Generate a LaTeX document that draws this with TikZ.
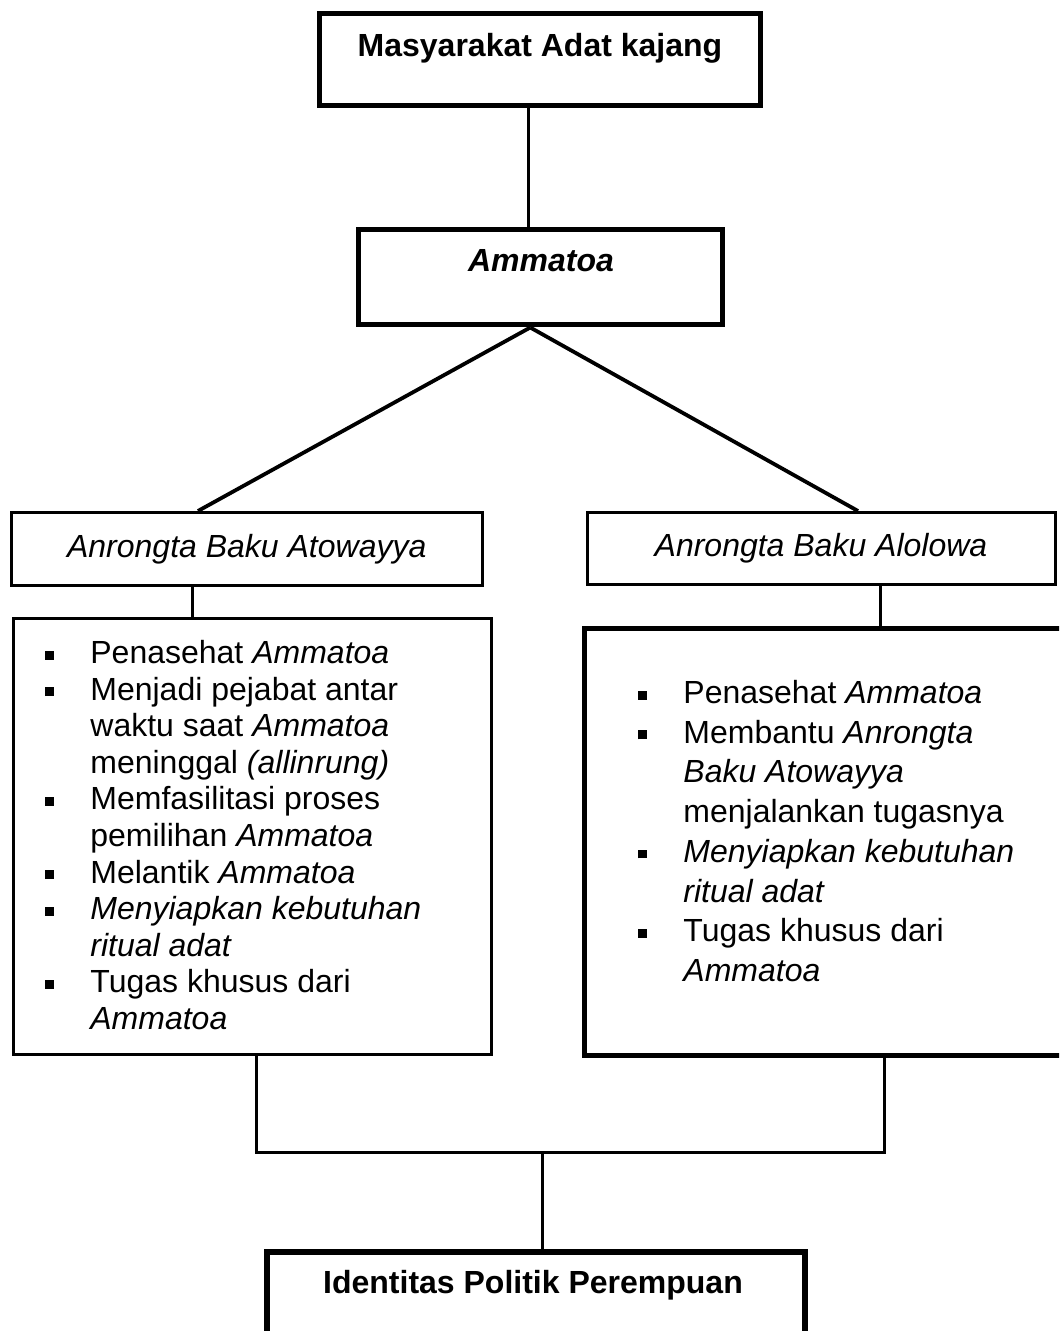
\documentclass[tikz,border=0pt]{standalone}
\usepackage{fontspec}
\setmainfont{Liberation Sans}
\usepackage{tikz}
\usetikzlibrary{positioning}

\newcommand{\butir}{\makebox[22.5pt][l]{\rule[2pt]{4.4pt}{4.4pt}}}
\newcommand{\sela}{\hspace*{22.5pt}}

\tikzset{
  tipis/.style={draw, line width=1.5pt, inner sep=0pt},
  tebal/.style={draw, line width=2.7pt, inner sep=0pt},
  garis/.style={line width=1.5pt},
  judul/.style={font=\fontsize{16}{19}\selectfont\bfseries, inner sep=0pt},
  daftar/.style={align=left, inner sep=0pt}
}

\begin{document}
\begin{tikzpicture}[x=0.5pt,y=-0.5pt]
\clip (0,0) rectangle (1059,1331);

%Shape: Rectangle [top]
\node[tebal, minimum width=220.25pt, minimum height=46pt] (adat) at (540,59.5) {};
%Shape: Rectangle [ammatoa]
\node[tebal, line width=2.5pt, minimum width=181.75pt, minimum height=47.75pt] (ammatoa) at (540.25,277.25) {};
%Shape: Rectangle [labels]
\node[tipis, minimum width=235.25pt, minimum height=36.5pt, font=\fontsize{16}{19}\selectfont\itshape] (atowayya) at (246.75,549) {Anrongta Baku Atowayya};
\node[tipis, minimum width=234pt, minimum height=35.75pt, font=\fontsize{16}{19}\selectfont\itshape] (alolowa) at (821,548.25) {Anrongta Baku Alolowa};
%Shape: Rectangle [lists]
\node[tipis, minimum width=239pt, minimum height=217.75pt] (tugasA) at (252,836.25) {};
\node[tebal, minimum width=242.75pt, minimum height=213.5pt] (tugasB) at (827.25,842) {};
%Shape: Rectangle [bottom]
\node[tebal, minimum width=269pt, minimum height=74pt] (identitas) at (536,1326) {};

% Text Node
\node[judul, anchor=base] (adatT) at (540,57) {Masyarakat Adat kajang};
% Text Node
\node[judul, anchor=base] (ammatoaT) at (541,272) {\textit{Ammatoa}};
% Text Node
\node[judul, anchor=base] (identitasT) at (533,1293) {Identitas Politik Perempuan};

% Text Node
\node[daftar, anchor=north west, font=\fontsize{16}{18.3}\selectfont] (isiA) at (45,640) {%
\butir Penasehat \textit{Ammatoa}\\
\butir Menjadi pejabat antar\\
\sela waktu saat \textit{Ammatoa}\\
\sela meninggal \textit{(allinrung)}\\
\butir Memfasilitasi proses\\
\sela pemilihan \textit{Ammatoa}\\
\butir Melantik \textit{Ammatoa}\\
\butir \textit{Menyiapkan kebutuhan}\\
\sela \textit{ritual adat}\\
\butir Tugas khusus dari\\
\sela \textit{Ammatoa}};
% Text Node
\node[daftar, anchor=north west, font=\fontsize{16}{19.85}\selectfont] (isiB) at (638,680) {%
\butir Penasehat \textit{Ammatoa}\\
\butir Membantu \textit{Anrongta}\\
\sela \textit{Baku Atowayya}\\
\sela menjalankan tugasnya\\
\butir \textit{Menyiapkan kebutuhan}\\
\sela \textit{ritual adat}\\
\butir Tugas khusus dari\\
\sela \textit{Ammatoa}};

%Straight Lines [top to ammatoa]
\draw[garis] ([xshift=-6pt]adat.south) -- ([xshift=-6pt]adat.south |- ammatoa.north);
%Straight Lines [branches]
\coordinate (puncak) at ([xshift=-5pt]ammatoa.south);
\draw[garis, line width=1.9pt] (puncak) -- ([xshift=-24.4pt]atowayya.north);
\draw[garis, line width=1.9pt] (puncak) -- ([xshift=18.5pt]alolowa.north);
%Straight Lines [labels to lists]
\draw[garis] ([xshift=-26.9pt]atowayya.south) -- ([xshift=-26.9pt]atowayya.south |- tugasA.north);
\draw[garis] ([xshift=29.5pt]alolowa.south) -- ([xshift=29.5pt]alolowa.south |- tugasB.north);
%Straight Lines [join]
\coordinate (temu) at (542,1152);
\draw[garis] ([xshift=2pt]tugasA.south) |- (temu) -| ([xshift=28.4pt]tugasB.south);
\draw[garis] (temu) -- (temu |- identitas.north);

\end{tikzpicture}
\end{document}
